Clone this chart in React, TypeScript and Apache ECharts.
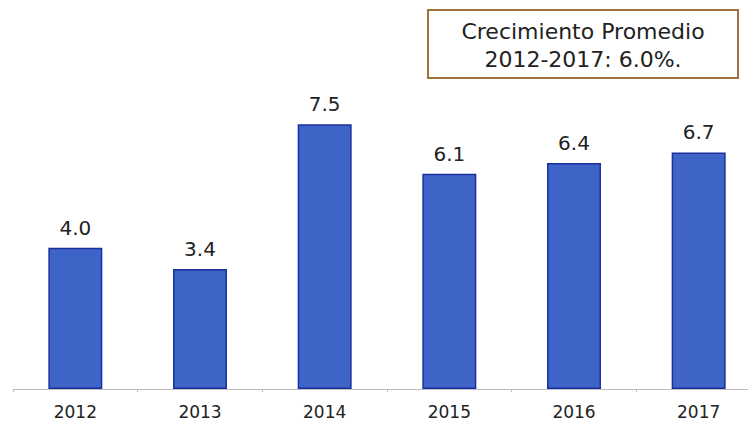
import React, { useEffect, useRef } from "react";
import * as echarts from "echarts";

const categories = ["2012", "2013", "2014", "2015", "2016", "2017"];
const values = [4.0, 3.4, 7.5, 6.1, 6.4, 6.7];
const boxLines = ["Crecimiento Promedio", "2012-2017: 6.0%."];

const FONT = "DejaVu Sans";

export default function App() {
  const ref = useRef<HTMLDivElement>(null);
  useEffect(() => {
    if (!ref.current) return;
    const chart = echarts.init(ref.current, null, { renderer: "svg" });
    chart.setOption({
      animation: false,
      backgroundColor: "#ffffff",
      grid: { left: 13, right: 0, top: 36, bottom: 34 },
      xAxis: {
        type: "category",
        data: categories,
        axisLine: { show: true, lineStyle: { color: "#bdbdbd", width: 1 } },
        axisTick: { show: true, length: 3, lineStyle: { color: "#bdbdbd" } },
        axisLabel: {
          color: "#222222",
          fontFamily: FONT,
          fontSize: 17,
          margin: 14,
        },
      },
      yAxis: {
        type: "value",
        min: 0,
        max: 10,
        show: false,
        splitLine: { show: false },
      },
      series: [
        {
          type: "bar",
          data: values,
          barWidth: 54,
          itemStyle: {
            color: "#3f64c8",
            borderColor: "#1b2f9e",
            borderWidth: 1.5,
          },
          label: {
            show: true,
            position: "top",
            distance: 10,
            color: "#222222",
            fontFamily: FONT,
            fontSize: 20,
            formatter: (p: any) => Number(p.value).toFixed(1),
          },
        },
      ],
      graphic: [
        {
          type: "rect",
          shape: { x: 428, y: 10, width: 310, height: 68 },
          style: { fill: "#ffffff", stroke: "#a0703c", lineWidth: 2 },
        },
        {
          type: "text",
          x: 583,
          y: 31,
          style: {
            text: boxLines[0],
            fill: "#222222",
            font: `22px "${FONT}"`,
            textAlign: "center",
            textVerticalAlign: "middle",
          },
        },
        {
          type: "text",
          x: 583,
          y: 59,
          style: {
            text: boxLines[1],
            fill: "#222222",
            font: `22px "${FONT}"`,
            textAlign: "center",
            textVerticalAlign: "middle",
          },
        },
      ],
    });
    return () => chart.dispose();
  }, []);
  return (
    <div
      ref={ref}
      style={{ position: "fixed", left: 0, top: 0, width: 761, height: 423 }}
    />
  );
}
